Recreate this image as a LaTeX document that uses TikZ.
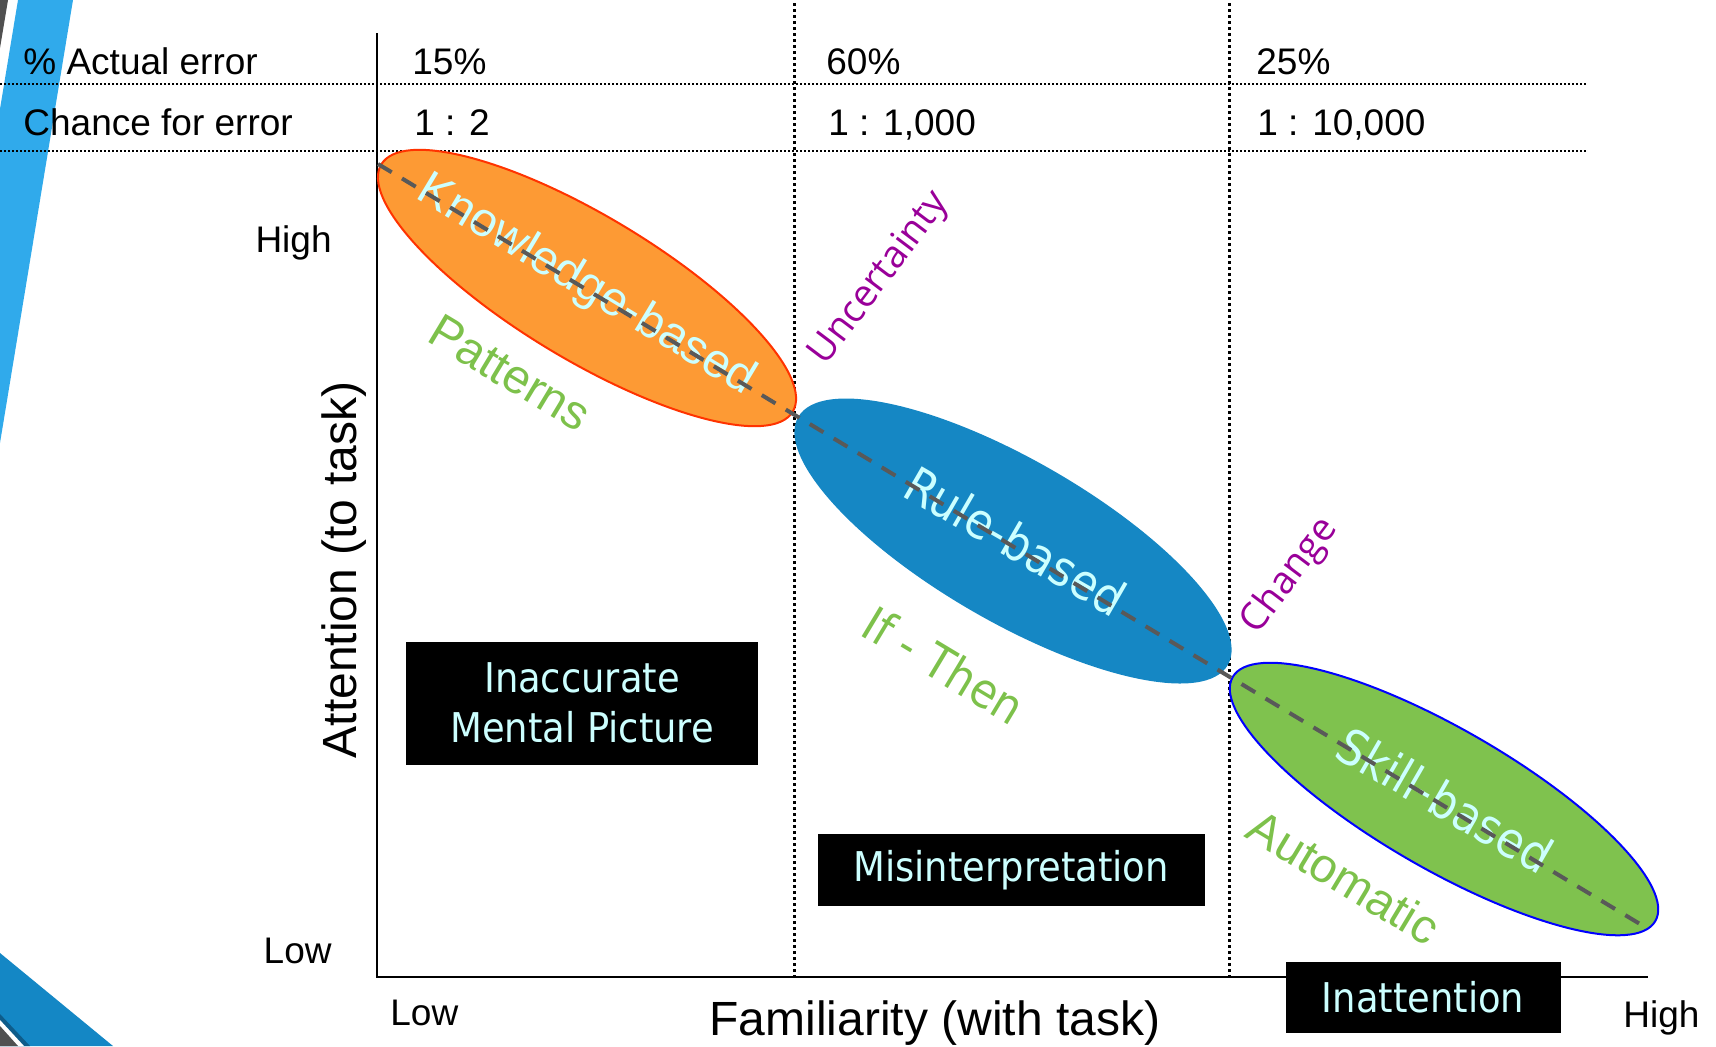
\documentclass[tikz,border=0pt]{standalone}
\usepackage{fontspec}
\setmainfont{Liberation Sans}
\newfontfamily\tahomafont{DejaVu Sans Condensed}
\newfontfamily\segoefont{Open Sans}
\usetikzlibrary{shapes.geometric}

\definecolor{stripeblue}{RGB}{48,170,235}
\definecolor{cornerblue}{RGB}{20,135,197}
\definecolor{cornerdark}{RGB}{14,92,138}
\definecolor{stripegray}{RGB}{80,80,80}
\definecolor{knowfill}{RGB}{253,154,52}
\definecolor{knowedge}{RGB}{255,51,0}
\definecolor{rulefill}{RGB}{21,135,196}
\definecolor{skillfill}{RGB}{127,194,78}
\definecolor{hintgreen}{RGB}{125,193,75}
\definecolor{hintpurple}{RGB}{153,0,153}
\definecolor{paleblue}{RGB}{204,255,255}
\definecolor{trendgray}{RGB}{89,89,89}

\tikzset{
  rowtext/.style={anchor=base west, inner sep=0pt, font=\fontsize{18.5pt}{22pt}\selectfont},
  axistext/.style={inner sep=0pt, font=\fontsize{18.5pt}{22pt}\selectfont},
  titletext/.style={anchor=base, inner sep=0pt, font=\fontsize{24pt}{28pt}\selectfont},
  zone/.style={ellipse, inner sep=0pt},
  zonetext/.style={text=paleblue, inner sep=0pt, font=\fontsize{24pt}{28pt}\selectfont},
  hinttext/.style={text=hintgreen, inner sep=0pt, font=\fontsize{24pt}{28pt}\selectfont},
  cuetext/.style={text=hintpurple, inner sep=0pt, rotate=53, font=\segoefont\fontsize{19pt}{22pt}\selectfont},
  errbox/.style={fill=black, text=paleblue, align=center, inner sep=0pt, font=\tahomafont\fontsize{20.5pt}{25pt}\selectfont},
  gridrule/.style={line width=1pt, dash pattern=on 1pt off 1pt},
  colrule/.style={line width=1.5pt, dash pattern=on 1.5pt off 1.5pt},
}

\begin{document}
\begin{tikzpicture}[x=0.5pt, y=-0.5pt]
  \useasboundingbox (0,0) rectangle (1716,1046);

  % slide decoration
  \fill[stripegray] (0,0) -- (8,0) -- (0,48) -- cycle;
  \fill[stripeblue] (18,0) -- (73,0) -- (0,443) -- (0,109) -- cycle;
  \fill[cornerblue] (0,953) -- (113,1046) -- (0,1046) -- cycle;
  \fill[cornerdark] (0,1014) -- (30,1046) -- (0,1046) -- cycle;
  \fill[white] (0,1020) -- (24,1046) -- (0,1046) -- cycle;
  \fill[stripegray] (0,1026) -- (18,1046) -- (0,1046) -- cycle;

  % table rules
  \draw[gridrule] (0,84) -- (1587,84);
  \draw[gridrule] (0,151) -- (1587,151);
  \draw[colrule] (794,3) -- (794,977);
  \draw[colrule] (1229,3) -- (1229,977);

  \node[rowtext] (actualLbl) at (23,74) {\% Actual error};
  \node[rowtext] (chanceLbl) at (23,135) {Chance for error};
  \node[rowtext] (actualK) at (412,74) {15\%};
  \node[rowtext] (actualR) at (826,74) {60\%};
  \node[rowtext] (actualS) at (1256,74) {25\%};
  \node[rowtext] (chanceK) at (414,135) {1 : 2};
  \node[rowtext] (chanceR) at (828,135) {1 : 1,000};
  \node[rowtext] (chanceS) at (1257,135) {1 : 10,000};

  % axes
  \coordinate (origin) at (377,977);
  \coordinate (yTop) at (377,33);
  \coordinate (xEnd) at (1648,977);
  \draw[line width=1pt] (yTop) -- (origin) -- (xEnd);

  \node[axistext, anchor=base east] (yHigh) at (332,252) {High};
  \node[axistext, anchor=base east] (yLow) at (332,963) {Low};
  \node[axistext, anchor=base west] (xLow) at (390,1025) {Low};
  \node[axistext, anchor=base west] (xHigh) at (1623,1027) {High};
  \node[titletext] (xTitle) at (935,1035) {Familiarity (with task)};
  \node[titletext, rotate=90] (yTitle) at (356,570) {Attention (to task)};

  % performance levels
  \node[zone, fill=knowfill, draw=knowedge, line width=1pt, rotate=-31,
        minimum width=240pt, minimum height=72pt] (knowEll) at (587,288) {};
  \node[zone, fill=rulefill, rotate=-30,
        minimum width=248pt, minimum height=81pt] (ruleEll) at (1013,541) {};
  \node[zone, fill=skillfill, draw=blue, line width=1pt, rotate=-30,
        minimum width=244pt, minimum height=70pt] (skillEll) at (1444,799) {};

  \node[zonetext, rotate=-31] (knowTxt) at (586,286) {Knowledge-based};
  \node[zonetext, rotate=-30, font=\tahomafont\fontsize{24.5pt}{28pt}\selectfont] (ruleTxt) at (1016,541) {Rule-based};
  \node[zonetext, rotate=-30, font=\tahomafont\fontsize{24.5pt}{28pt}\selectfont] (skillTxt) at (1445,800) {Skill-based};

  \node[hinttext, rotate=-31] (patternsTxt) at (510,373) {Patterns};
  \node[hinttext, rotate=-31, font=\tahomafont\fontsize{24pt}{28pt}\selectfont] (ifThenTxt) at (944,665) {If - Then};
  \node[hinttext, rotate=-31] (automaticTxt) at (1344,877) {Automatic};

  \node[cuetext] (uncertTxt) at (880,279) {Uncertainty};
  \node[cuetext] (changeTxt) at (1290,576) {Change};

  \coordinate (trendStart) at (378,164);
  \coordinate (trendEnd) at (1640,924);
  \draw[trendgray, line width=2pt, dash pattern=on 8pt off 6pt] (trendStart) -- (trendEnd);

  % error types
  \node[errbox, minimum width=176pt, minimum height=61.5pt] (inaccBox) at (582,703) {\raisebox{-3pt}{Inaccurate}\\\raisebox{-3pt}{Mental Picture}};
  \node[errbox, minimum width=193.5pt, minimum height=36pt] (misBox) at (1011,870) {\raisebox{-2pt}{Misinterpretation}};
  \node[errbox, minimum width=137.5pt, minimum height=35.5pt] (inattBox) at (1423,997) {Inattention};
\end{tikzpicture}
\end{document}
